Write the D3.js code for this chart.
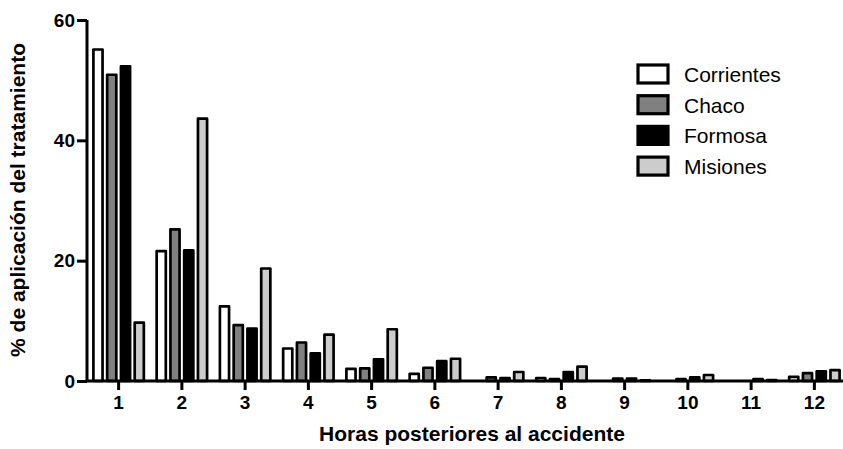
<!DOCTYPE html>
<html>
<head>
<meta charset="utf-8">
<script src="https://cdn.jsdelivr.net/npm/d3@7/dist/d3.min.js"></script>
<style>
  body { margin: 0; background: #fff; }
  svg { font-family: "Liberation Sans", Arial, sans-serif; }
</style>
</head>
<body>
<div id="chart"></div>
<script>
// Data
var hours = ["1", "2", "3", "4", "5", "6", "7", "8", "9", "10", "11", "12"];
var seriesNames = ["Corrientes", "Chaco", "Formosa", "Misiones"];
var seriesColors = ["#ffffff", "#808080", "#000000", "#cccccc"];
var corrientes = [55.1, 21.6, 12.4, 5.4, 2.0, 1.2, 0, 0.5, 0, 0, 0, 0.7];
var chaco      = [50.9, 25.2, 9.3, 6.4, 2.1, 2.2, 0.6, 0.3, 0.4, 0.3, 0, 1.3];
var formosa    = [52.3, 21.7, 8.7, 4.6, 3.6, 3.3, 0.5, 1.5, 0.4, 0.6, 0.3, 1.6];
var misiones   = [9.7, 43.6, 18.7, 7.7, 8.6, 3.7, 1.5, 2.4, 0.1, 1.0, 0.15, 1.8];
var yTicks = [0, 20, 40, 60];

var values = [corrientes, chaco, formosa, misiones];

var svgWidth = 843, svgHeight = 449;
var svg = d3.select("#chart")
            .append("svg")
            .attr("width", svgWidth)
            .attr("height", svgHeight);

// Scales
var x0 = d3.scaleBand()
           .domain(hours)
           .range([87, 846])
           .paddingInner(0.16)
           .paddingOuter(0.08);
var x1 = d3.scaleBand()
           .domain(seriesNames)
           .range([0, x0.bandwidth()])
           .paddingInner(0.14);
var yScale = d3.scaleLinear()
               .domain([0, 60])
               .range([381, 20]);

var sw = 2.7;

// Bars
seriesNames.forEach(function(name, si) {
    svg.append("g")
       .selectAll("rect")
       .data(values[si])
       .enter()
       .append("rect")
       .attr("x", function(d, i) { return x0(hours[i]) + x1(name) + sw / 2; })
       .attr("width", x1.bandwidth() - sw)
       .attr("y", function(d) { return yScale(d); })
       .attr("height", function(d) { return yScale(0) - yScale(d); })
       .attr("fill", seriesColors[si])
       .attr("stroke", "#000")
       .attr("stroke-width", sw)
       .attr("stroke-linejoin", "round");
});

// Y axis
var yAxis = d3.axisLeft(yScale).tickValues(yTicks).tickSize(10).tickPadding(2);
var yAxisGroup = svg.append("g")
   .attr("transform", "translate(87,0)")
   .call(yAxis);
yAxisGroup.select(".domain").attr("stroke-width", 3).attr("d", "M0,20V381");
yAxisGroup.selectAll(".tick line").attr("stroke-width", 3);
yAxisGroup.selectAll("text")
   .style("font-size", "19px")
   .style("font-weight", "bold")
   .attr("fill", "#000");

// X axis
var xAxis = d3.axisBottom(x0).tickSize(9).tickPadding(6);
var xAxisGroup = svg.append("g")
   .attr("transform", "translate(0,381)")
   .call(xAxis);
xAxisGroup.select(".domain").attr("stroke-width", 3).attr("d", "M85.5,0H843");
xAxisGroup.selectAll(".tick line").attr("stroke-width", 3);
xAxisGroup.selectAll("text")
   .style("font-size", "19px")
   .style("font-weight", "bold")
   .attr("fill", "#000");

// Axis titles
svg.append("text")
   .attr("x", 472)
   .attr("y", 441)
   .style("text-anchor", "middle")
   .style("font-size", "21px")
   .style("font-weight", "bold")
   .text("Horas posteriores al accidente");

svg.append("text")
   .attr("transform", "translate(25,200) rotate(-90)")
   .style("text-anchor", "middle")
   .style("font-size", "21px")
   .style("font-weight", "bold")
   .text("% de aplicación del tratamiento");

// Legend
var legend = svg.append("g").attr("transform", "translate(638,65)");
seriesNames.forEach(function(name, i) {
    var row = legend.append("g").attr("transform", "translate(0," + (i * 30.7) + ")");
    row.append("rect")
       .attr("x", 0).attr("y", 0)
       .attr("width", 30).attr("height", 18)
       .attr("fill", seriesColors[i])
       .attr("stroke", "#000")
       .attr("stroke-width", 3.2);
    row.append("text")
       .attr("x", 46)
       .attr("y", 17)
       .style("font-size", "21px")
       .text(name);
});
</script>
</body>
</html>
